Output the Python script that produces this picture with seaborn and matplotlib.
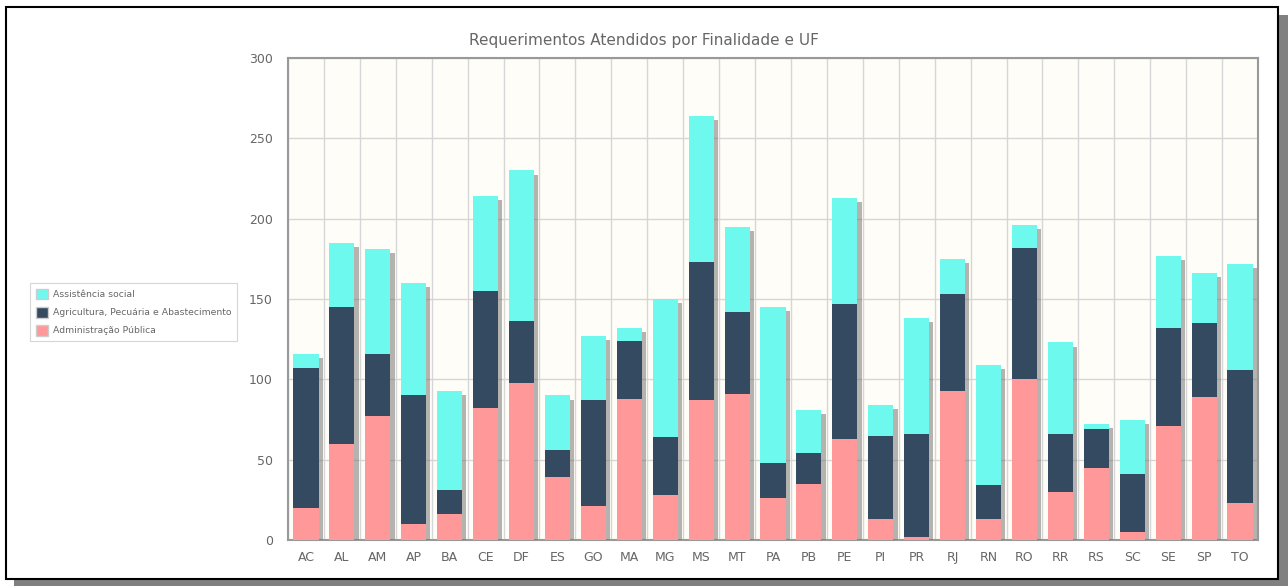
import numpy as np
import pandas as pd
import matplotlib
matplotlib.use("Agg")
import matplotlib.pyplot as plt
import matplotlib.patheffects as pe
from matplotlib.patches import Rectangle, Patch
import seaborn as sns

# data
ufs = ['AC', 'AL', 'AM', 'AP', 'BA', 'CE', 'DF', 'ES', 'GO', 'MA', 'MG', 'MS', 'MT', 'PA',
       'PB', 'PE', 'PI', 'PR', 'RJ', 'RN', 'RO', 'RR', 'RS', 'SC', 'SE', 'SP', 'TO']
adm_publica = [20, 60, 77, 10, 16, 82, 98, 39, 21, 88, 28, 87, 91, 26,
               35, 63, 13, 2, 93, 13, 100, 30, 45, 5, 71, 89, 23]
agricultura = [87, 85, 39, 80, 15, 73, 38, 17, 66, 36, 36, 86, 51, 22,
               19, 84, 52, 64, 60, 21, 82, 36, 24, 36, 61, 46, 83]
assistencia = [9, 40, 65, 70, 62, 59, 94, 34, 40, 8, 86, 91, 53, 97,
               27, 66, 19, 72, 22, 75, 14, 57, 3, 34, 45, 31, 66]

series_names = ['Assistência social', 'Agricultura, Pecuária e Abastecimento', 'Administração Pública']
colors = ['#6ef9ef', '#344a61', '#ff9898']

df = pd.DataFrame({'uf': ufs, 'adm': adm_publica, 'agr': agricultura, 'ass': assistencia})
df['cum_agr'] = df['adm'] + df['agr']
df['total'] = df['cum_agr'] + df['ass']

sns.set_style('white')
plt.rcParams['font.family'] = ['DejaVu Sans']

fig = plt.figure(figsize=(12.88, 5.86), dpi=100)
fig.patch.set_facecolor('white')

# outer frame with shadow
W, H = 1288, 586
fig.patches.append(Rectangle((14 / W, 0), 1274 / W, (H - 15) / H, transform=fig.transFigure,
                             facecolor='#808080', edgecolor='none', zorder=0))
fig.patches.append(Rectangle((6 / W, (H - 579) / H), 1272 / W, 572 / H, transform=fig.transFigure,
                             facecolor='white', edgecolor='black', linewidth=1.5, zorder=1))

ax = fig.add_axes([288 / W, (H - 540) / H, 970 / W, 482 / H])
ax.set_zorder(2)
ax.set_facecolor('#fffdf7')

# stacked bars: full height first (with shadow), then partial sums on top
sns.barplot(data=df, x='uf', y='total', color=colors[0], width=0.7, saturation=1, ax=ax)
for p in ax.patches:
    p.set_path_effects([pe.SimplePatchShadow(offset=(3, -3), shadow_rgbFace='#777777', alpha=0.55),
                        pe.Normal()])
sns.barplot(data=df, x='uf', y='cum_agr', color=colors[1], width=0.7, saturation=1, ax=ax)
sns.barplot(data=df, x='uf', y='adm', color=colors[2], width=0.7, saturation=1, ax=ax)
for p in ax.patches:
    p.set_edgecolor('none')
    p.set_zorder(3)

ax.set_xlim(-0.5, len(ufs) - 0.5)
ax.set_ylim(0, 300)
ax.set_yticks(np.arange(0, 301, 50))
ax.set_xticks(np.arange(len(ufs)))
ax.set_xticks(np.arange(len(ufs) + 1) - 0.5, minor=True)
ax.grid(False)
ax.yaxis.grid(True, color='#d6d6d6', linewidth=1)
ax.xaxis.grid(True, which='minor', color='#d6d6d6', linewidth=1)
ax.set_axisbelow(True)
ax.tick_params(axis='y', which='major', length=5, color='#999999', labelcolor='#666666', labelsize=9, pad=6)
ax.tick_params(axis='x', which='major', length=0, labelcolor='#666666', labelsize=9, pad=8)
ax.tick_params(axis='x', which='minor', length=5, color='#cccccc')
ax.set_xlabel('')
ax.set_ylabel('')
for s in ax.spines.values():
    s.set_color('#999999')
    s.set_linewidth(1.5)

fig.text(0.5, (H - 40) / H, 'Requerimentos Atendidos por Finalidade e UF', color='#666666',
         fontsize=11, ha='center', va='center')

handles = [Patch(facecolor=c, edgecolor='#cccccc', label=n) for c, n in zip(colors, series_names)]
leg = fig.legend(handles=handles, loc='upper left', bbox_to_anchor=(30 / W, (H - 283) / H),
                 borderaxespad=0, fontsize=6.7, frameon=True, fancybox=False, borderpad=0.6,
                 handlelength=1.3, handleheight=1.4, handletextpad=0.6, labelspacing=0.8,
                 labelcolor='#666666')
leg.get_frame().set_edgecolor('#cccccc')
leg.get_frame().set_linewidth(0.8)
leg.set_zorder(3)

fig.savefig('out.png', dpi=100)
